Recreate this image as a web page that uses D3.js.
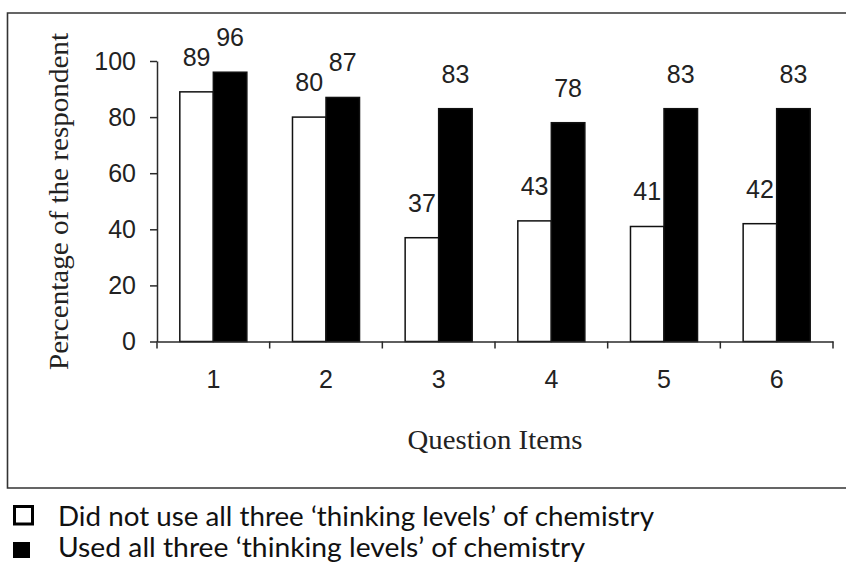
<!DOCTYPE html>
<html>
<head>
<meta charset="utf-8">
<script src="https://cdn.jsdelivr.net/npm/d3@7"></script>
<style>
  html, body { margin: 0; padding: 0; background: #fff; }
  svg { display: block; }
</style>
</head>
<body>
<svg id="chart" width="846" height="565"></svg>
<script>
// ---- data ----
const categories = ["1", "2", "3", "4", "5", "6"];
const notUsedValues = [89, 80, 37, 43, 41, 42];
const usedValues = [96, 87, 83, 78, 83, 83];
const yTickValues = [0, 20, 40, 60, 80, 100];
const seriesNames = [
  "Did not use all three \u2018thinking levels\u2019 of chemistry",
  "Used all three \u2018thinking levels\u2019 of chemistry"
];
const yAxisTitle = "Percentage of the respondent";
const xAxisTitle = "Question Items";

// ---- layout ----
const svg = d3.select("#chart");
const axisColor = "#2a2a2a";
const plotLeft = 157, plotRight = 833, plotTop = 61, plotBottom = 341.5;

const x0 = d3.scaleBand().domain(categories).range([plotLeft, plotRight])
  .paddingInner(0.405).paddingOuter(0.2025);
const x1 = d3.scaleBand().domain([0, 1]).range([0, x0.bandwidth()]);
const y = d3.scaleLinear().domain([0, 100]).range([plotBottom, plotTop]);

// outer frame (right edge lies outside the picture)
svg.append("path")
  .attr("d", `M 852 13 H 7.5 V 488 H 852`)
  .attr("fill", "none").attr("stroke", "#333").attr("stroke-width", 1.6);

// bars
const rows = categories.map((c, i) => ({ c, vals: [notUsedValues[i], usedValues[i]] }));
const groups = svg.append("g").selectAll("g").data(rows).join("g")
  .attr("transform", d => `translate(${x0(d.c)},0)`);

groups.selectAll("rect").data(d => d.vals.map((v, k) => ({ v, k }))).join("rect")
  .attr("x", d => x1(d.k))
  .attr("y", d => y(d.v))
  .attr("width", x1.bandwidth())
  .attr("height", d => y(0) - y(d.v))
  .attr("fill", d => d.k === 0 ? "#fff" : "#000")
  .attr("stroke", "#111")
  .attr("stroke-width", 1.5);

groups.selectAll("text").data(d => d.vals.map((v, k) => ({ v, k }))).join("text")
  .attr("x", d => x1(d.k) + x1.bandwidth() / 2)
  .attr("y", d => y(d.v) - 26)
  .attr("text-anchor", "middle")
  .attr("font-family", "Liberation Sans, Arial, sans-serif")
  .attr("font-size", 25)
  .attr("fill", "#222")
  .text(d => d.v);

// y axis
const yAxis = svg.append("g").attr("transform", `translate(${plotLeft},0)`)
  .call(d3.axisLeft(y).tickValues(yTickValues).tickSize(7).tickPadding(14).tickSizeOuter(0));
yAxis.select(".domain").attr("stroke", axisColor).attr("stroke-width", 1.5);
yAxis.selectAll(".tick line").attr("stroke", axisColor).attr("stroke-width", 1.5);
yAxis.selectAll(".tick text")
  .attr("font-family", "Liberation Sans, Arial, sans-serif")
  .attr("font-size", 25).attr("fill", "#222");

// x axis
const xAxis = svg.append("g").attr("transform", `translate(0,${plotBottom})`)
  .call(d3.axisBottom(x0).tickSize(0).tickPadding(29).tickSizeOuter(0));
xAxis.select(".domain").attr("stroke", axisColor).attr("stroke-width", 1.5);
xAxis.selectAll(".tick text")
  .attr("font-family", "Liberation Sans, Arial, sans-serif")
  .attr("font-size", 25).attr("fill", "#222");

const boundaries = categories.map(c => x0(c) - x0.step() * x0.paddingInner() / 2)
  .concat([x0(categories[categories.length - 1]) + x0.bandwidth() + x0.step() * x0.paddingInner() / 2]);
xAxis.selectAll("line.bound").data(boundaries).join("line")
  .attr("class", "bound")
  .attr("x1", d => d).attr("x2", d => d)
  .attr("y1", 0).attr("y2", 7)
  .attr("stroke", axisColor).attr("stroke-width", 1.5);

// axis titles
svg.append("text")
  .attr("transform", `translate(68,201.5) rotate(-90)`)
  .attr("text-anchor", "middle")
  .attr("font-family", "Liberation Serif, Times New Roman, serif")
  .attr("font-size", 28)
  .attr("fill", "#222")
  .attr("textLength", 337).attr("lengthAdjust", "spacingAndGlyphs")
  .text(yAxisTitle);

svg.append("text")
  .attr("x", (plotLeft + plotRight) / 2).attr("y", 449)
  .attr("text-anchor", "middle")
  .attr("font-family", "Liberation Serif, Times New Roman, serif")
  .attr("font-size", 28)
  .attr("fill", "#222")
  .attr("textLength", 175).attr("lengthAdjust", "spacingAndGlyphs")
  .text(xAxisTitle);

// legend
const legend = svg.append("g");
legend.append("rect").attr("x", 14.5).attr("y", 506.5).attr("width", 18).attr("height", 17.5)
  .attr("fill", "#fff").attr("stroke", "#000").attr("stroke-width", 3);
legend.append("rect").attr("x", 13).attr("y", 542).attr("width", 17).attr("height", 16)
  .attr("fill", "#000");
const legendLengths = [596, 527];
legend.selectAll("text.leg").data(seriesNames).join("text")
  .attr("class", "leg")
  .attr("x", 58)
  .attr("y", (d, i) => 526 + i * 31)
  .attr("font-family", "Lato, Open Sans, sans-serif")
  .attr("font-size", 27)
  .attr("fill", "#111")
  .attr("textLength", (d, i) => legendLengths[i]).attr("lengthAdjust", "spacingAndGlyphs")
  .text(d => d);
</script>
</body>
</html>
